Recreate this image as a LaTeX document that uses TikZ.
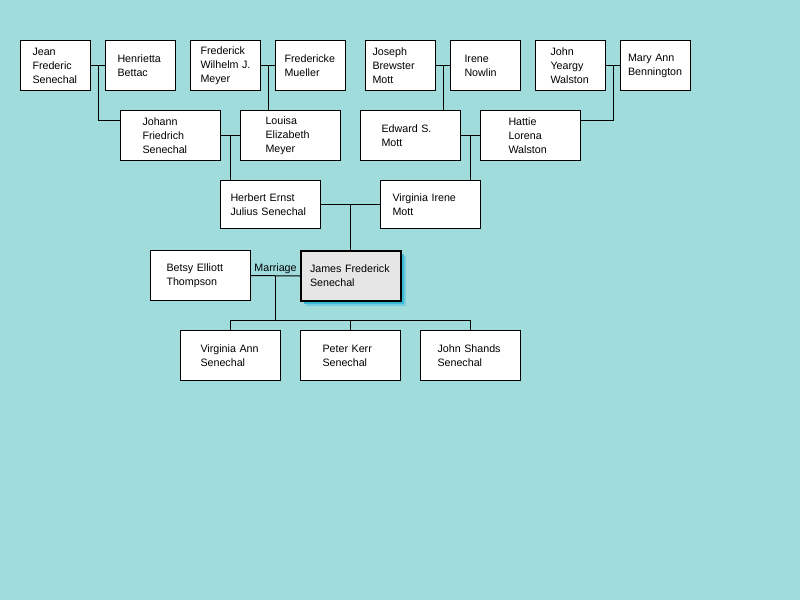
\documentclass[tikz,border=0pt]{standalone}
\usepackage{fontspec}
\setmainfont{Liberation Sans}
\usetikzlibrary{calc,shadows}
\definecolor{bgteal}{RGB}{160,220,220}
\definecolor{selgray}{RGB}{230,230,230}
\definecolor{shadowcyan}{RGB}{60,185,210}
\definecolor{shadowlight}{RGB}{115,205,222}
\hyphenpenalty=10000
\exhyphenpenalty=10000
\tikzset{
  person/.style 2 args={draw,fill=white,anchor=north west,minimum height=50pt,
    inner ysep=0pt,inner xsep=#2pt,text width=#1pt,align=left},
  selected/.style={line width=2pt,fill=selgray,
    drop shadow={shadow xshift=4.5pt,shadow yshift=-4.5pt,fill=shadowlight,opacity=1},
    drop shadow={shadow xshift=2.5pt,shadow yshift=-2.5pt,fill=shadowcyan,opacity=1}}
}

\begin{document}
\begin{tikzpicture}[x=1pt,y=-1pt,line width=1pt,font=\fontsize{10.7}{14}\selectfont]
  \fill[bgteal] (0,0) rectangle (800,600); % Background

  % Great-grandparents
  \node[person={46}{12}] (jean) at (20,40) {Jean\\Frederic\\Senechal};
  \node[person={46}{12}] (henrietta) at (105,40) {Henrietta\\Bettac};
  \node[person={50}{10}] (frederick) at (190,40) {Frederick\\Wilhelm J.\\Meyer};
  \node[person={52}{9}] (fredericke) at (275,40) {Fredericke\\Mueller};
  \node[person={56}{7}] (joseph) at (365,40) {Joseph\\Brewster\\Mott};
  \node[person={42}{14}] (irene) at (450,40) {Irene\\Nowlin};
  \node[person={40}{15}] (johnw) at (535,40) {John\\Yeargy\\Walston};
  \node[person={55}{7.5}] (maryann) at (620,40) {Mary Ann\\Bennington};

  % Grandparents
  \node[person={56}{22}] (johann) at (120,110) {Johann\\Friedrich\\Senechal};
  \node[person={50}{25}] (louisa) at (240,110) {Louisa\\Elizabeth\\Meyer};
  \node[person={58}{21}] (edward) at (360,110) {Edward S.\\Mott};
  \node[person={44}{28}] (hattie) at (480,110) {Hattie\\Lorena\\Walston};

  % Parents
  \node[person={80}{10},minimum height=48pt] (herbert) at (220,180) {Herbert Ernst\\Julius Senechal};
  \node[person={76}{12},minimum height=48pt] (virginia) at (380,180) {Virginia Irene\\Mott};

  % Couple
  \node[person={68}{16}] (betsy) at (150,250) {Betsy Elliott\\Thompson};
  \node[person={82}{9},selected] (james) at (300,250) {James Frederick\\Senechal};

  % Children
  \node[person={60}{20}] (virginiaann) at (180,330) {Virginia Ann\\Senechal};
  \node[person={56}{22}] (peter) at (300,330) {Peter Kerr\\Senechal};
  \node[person={66}{17}] (johns) at (420,330) {John Shands\\Senechal};

  % Marriage lines
  \coordinate (m1) at ($(jean.east)!.5!(henrietta.west)$);
  \coordinate (m2) at ($(frederick.east)!.5!(fredericke.west)$);
  \coordinate (m3) at ($(joseph.east)!.5!(irene.west)$);
  \coordinate (m4) at ($(johnw.east)!.5!(maryann.west)$);
  \coordinate (m5) at ($(johann.east)!.5!(louisa.west)$);
  \coordinate (m6) at ($(edward.east)!.5!(hattie.west)$);
  \coordinate (m7) at ($(herbert.east)!.5!(virginia.west)$);
  \coordinate (m8) at ($(betsy.east)!.5!(james.west)$);

  \draw (jean.east) -- (henrietta.west);
  \draw (frederick.east) -- (fredericke.west);
  \draw (joseph.east) -- (irene.west);
  \draw (johnw.east) -- (maryann.west);
  \draw (johann.east) -- (louisa.west);
  \draw (edward.east) -- (hattie.west);
  \draw (herbert.east) -- (virginia.west);
  \draw (betsy.east) -- node[above,inner sep=1.5pt] (marriage) {Marriage} (james.west);

  % Descent lines
  \draw (m1) |- ([yshift=15pt]johann.west);
  \draw (m2) -- (m2 |- louisa.north);
  \draw (m3) -- (m3 |- edward.north);
  \draw (m4) |- ([yshift=15pt]hattie.east);
  \draw (m5) -- (m5 |- herbert.north);
  \draw (m6) -- (m6 |- virginia.north);
  \draw (m7) -- (m7 |- james.north);
  \coordinate (bus) at ($(m8)+(0,45)$);
  \draw (m8) -- (bus);
  \draw (virginiaann.north) |- (bus) -| (johns.north);
  \draw (peter.north) -- (peter.north |- bus);
\end{tikzpicture}
\end{document}
